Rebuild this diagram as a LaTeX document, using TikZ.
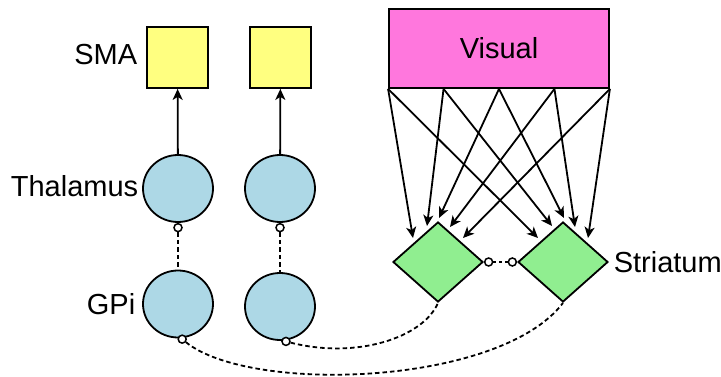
\documentclass[tikz,border=0pt]{standalone}
\usepackage{fontspec}
\setmainfont{Liberation Sans}
\usetikzlibrary{arrows.meta, calc, positioning, shapes.geometric}
\definecolor{smayellow}{HTML}{FFFF80}
\definecolor{nucblue}{HTML}{ADD8E6}
\definecolor{strgreen}{HTML}{90EE90}
\definecolor{vispink}{HTML}{FF77DD}

\begin{document}
\begin{tikzpicture}[
  x=1pt, y=-1pt,
  >={Stealth[length=11pt, width=10pt, inset=3pt]},
  line width=1.8pt,
  font=\fontsize{29}{34}\selectfont,
  area/.style={draw, fill=smayellow, minimum size=61pt, inner sep=0pt},
  nucleus/.style={draw, ellipse, fill=nucblue, minimum width=70pt, minimum height=67pt, inner sep=0pt},
  striatal/.style={draw, diamond, fill=strgreen, minimum width=90pt, minimum height=80pt, inner sep=0pt},
  synapse/.style={draw, circle, fill=white, minimum size=8pt, inner sep=0pt, line width=1.5pt},
  inhib/.style={dash pattern=on 4.5pt off 3pt},
  lbl/.style={inner sep=0pt}
]

\useasboundingbox (0,0) rectangle (721,377);

% ── Cortical areas ──
\node[area] (smaA) at (177.5,57.5) {};
\node[area] (smaB) at (280.5,57.5) {};
\node[draw, fill=vispink, minimum width=220pt, minimum height=79pt, inner sep=0pt]
  (vis) at (499,48.5) {Visual};

% ── Thalamus and GPi, two channels ──
\node[nucleus] (thalA) at (178,188.5) {};
\node[nucleus] (thalB) at (280,188.5) {};
\node[nucleus] (gpiA) at (178,304) {};
\node[nucleus] (gpiB) at (280,306.5) {};

% ── Striatum ──
\node[striatal] (strA) at (438,262) {};
\node[striatal] (strB) at (563,262) {};

% ── Labels ──
\node[lbl, left=8pt of smaA, yshift=3pt] (smaLbl) {SMA};
\node[lbl, left=3pt of thalA, yshift=2pt] (thalLbl) {Thalamus};
\node[lbl, left=6pt of gpiA] (gpiLbl) {GPi};
\node[lbl, right=4pt of strB] (strLbl) {Striatum};

% ── Inhibitory terminals ──
\node[synapse, below=0pt of thalA] (sThA) {};
\node[synapse, below=0pt of thalB] (sThB) {};
\node[synapse] (sGpA) at ($(gpiA.-83)+(0,1)$) {};
\node[synapse] (sGpB) at ($(gpiB.-80)+(0,1)$) {};
\node[synapse, right=0pt of strA] (sStA) {};
\node[synapse, left=0pt of strB] (sStB) {};

% ── Thalamus -> SMA ──
\draw[->] (thalA) -- (smaA);
\draw[->] (thalB) -- (smaB);

% ── GPi -| Thalamus ──
\draw[inhib] (sThA) -- (gpiA);
\draw[inhib] (sThB) -- (gpiB);

% ── Lateral inhibition in striatum ──
\draw[dash pattern=on 3pt off 3pt] (sStA) -- (sStB);

% ── Striatum -| GPi ──
\draw[inhib] (sGpB) .. controls +(70,18) and +(-15,35) .. (strA.south);
\draw[inhib] (sGpA) .. controls +(68,55) and +(-63,83) .. (strB.south);

% ── Visual -> Striatum, all to all ──
\foreach \i in {0,...,4}
  \coordinate (src\i) at ($(vis.south west)!{\i*0.25}!(vis.south east)$);
\foreach \dx/\dy [count=\i from 0] in {-25/-24, -11/-36, 1/-44, 12/-35, 25/-24} {
  \draw[->] (src\i) -- ($(strA)+(\dx,\dy)$);
  \draw[->] (src\i) -- ($(strB)+(\dx,\dy)$);
}

\end{tikzpicture}
\end{document}
